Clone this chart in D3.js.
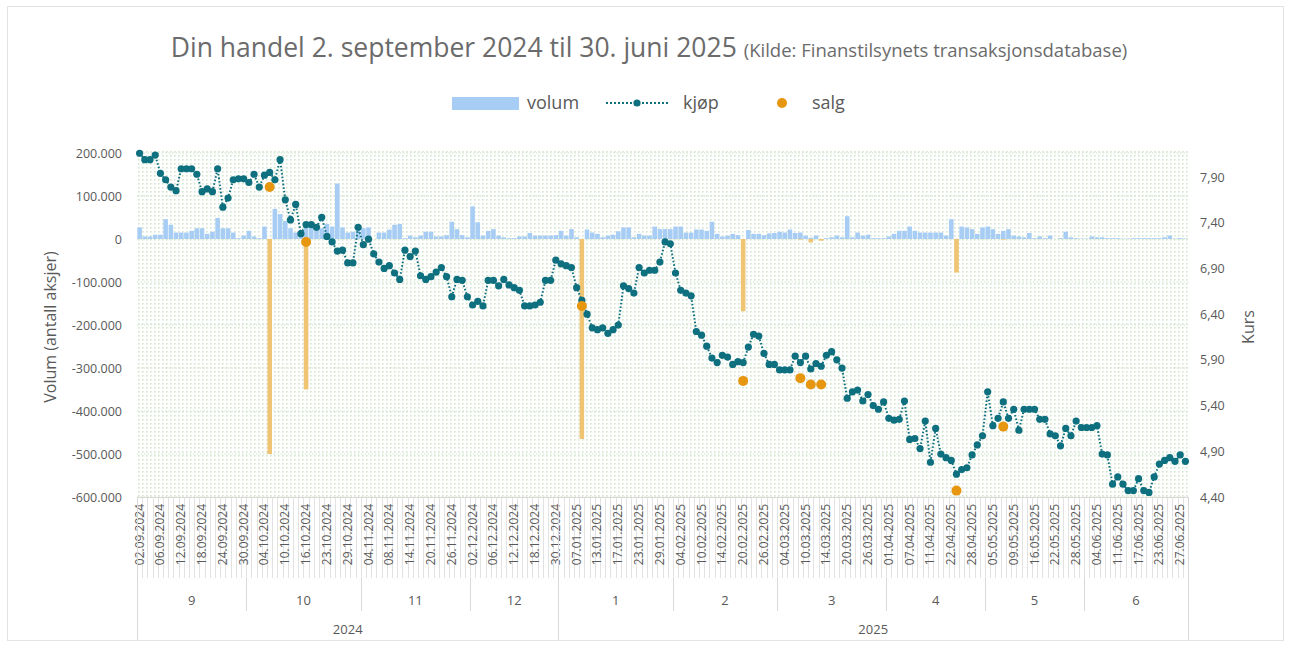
<!DOCTYPE html>
<html><head><meta charset="utf-8">
<script src="https://cdn.jsdelivr.net/npm/d3@7"></script>
<style>body{margin:0;background:#fff;} text{font-family:"Open Sans",sans-serif;fill:#595959;}</style>
</head><body><svg id="c" width="1290" height="648"></svg>
<script>
// trading days per month (categories)
const maaneder = [
 ["2024","09",[2,3,4,5,6,9,10,11,12,13,16,17,18,19,20,23,24,25,26,27,30]],
 ["2024","10",[1,2,3,4,7,8,9,10,11,14,15,16,17,18,22,23,24,25,28,29,30,31]],
 ["2024","11",[1,4,5,6,7,8,11,12,13,14,15,18,19,20,21,22,25,26,27,28,29]],
 ["2024","12",[2,3,4,5,6,9,10,11,12,13,16,17,18,19,20,23,30]],
 ["2025","01",[2,3,6,7,8,9,10,13,14,15,16,17,20,21,22,23,24,27,28,29,30,31]],
 ["2025","02",[3,4,5,6,7,10,11,12,13,14,17,18,19,20,21,24,25,26,27,28]],
 ["2025","03",[3,4,5,6,7,10,11,12,13,14,17,18,19,20,21,24,25,26,27,28,31]],
 ["2025","04",[1,2,3,4,7,8,9,10,11,14,15,16,22,23,24,25,28,29,30]],
 ["2025","05",[2,5,6,7,8,9,12,13,14,16,19,20,21,22,23,26,27,28,30]],
 ["2025","06",[2,3,4,5,6,10,11,12,13,16,17,18,19,20,23,24,25,26,27,30]]
];
// kjøp (kurs)
const kjop = [
 8.16,8.09,8.09,8.14,7.94,7.87,7.79,7.75,7.99,7.99,
 7.99,7.93,7.74,7.77,7.74,7.99,7.57,7.67,7.87,7.88,
 7.88,7.84,7.93,7.79,7.92,7.95,7.87,8.09,7.65,7.43,
 7.60,7.28,7.38,7.38,7.35,7.46,7.25,7.19,7.09,7.10,
 6.96,6.96,7.35,7.16,7.22,7.06,6.97,6.90,6.93,6.85,
 6.78,7.10,7.03,7.09,6.82,6.78,6.81,6.86,6.91,6.81,
 6.59,6.78,6.77,6.59,6.50,6.54,6.49,6.77,6.77,6.71,
 6.78,6.72,6.69,6.66,6.49,6.49,6.50,6.53,6.77,6.77,
 6.99,6.95,6.93,6.91,6.69,6.55,6.40,6.25,6.23,6.25,
 6.19,6.23,6.28,6.71,6.68,6.63,6.91,6.85,6.88,6.88,
 6.97,7.19,7.17,6.85,6.66,6.63,6.60,6.21,6.17,6.05,
 5.92,5.87,5.95,5.93,5.85,5.88,5.87,6.04,6.18,6.16,
 5.97,5.85,5.85,5.79,5.79,5.79,5.94,5.87,5.94,5.80,
 5.86,5.83,5.95,5.99,5.90,5.81,5.48,5.55,5.57,5.45,
 5.52,5.40,5.36,5.44,5.26,5.24,5.25,5.45,5.03,5.04,
 4.93,5.23,4.78,5.15,4.87,4.83,4.80,4.65,4.70,4.72,
 4.86,4.97,5.07,5.55,5.18,5.26,5.44,5.26,5.36,5.13,
 5.36,5.36,5.36,5.25,5.25,5.09,5.07,4.96,5.15,5.07,
 5.23,5.16,5.16,5.16,5.18,4.87,4.86,4.54,4.62,4.54,
 4.47,4.47,4.60,4.47,4.45,4.62,4.76,4.80,4.83,4.79,
 4.86,4.79
];
// volum kjøpt (tusen aksjer)
const volumTusen = [
 27,6,6,10,10,46,33,15,15,15,19,25,25,12,17,49,25,25,15,2,8,19,6,2,29,0,70,58,42,25,15,19,31,35,29,25,35,29,129,27,15,17,25,25,27,0,15,15,22,33,35,2,8,4,
 8,17,17,6,6,9,40,23,9,4,76,39,8,19,23,8,4,2,2,6,6,14,8,8,8,8,9,19,8,23,4,0,22,15,12,4,8,10,18,27,27,4,12,8,8,29,23,23,23,29,29,15,15,22,22,19,
 40,12,6,8,12,9,0,21,12,12,9,13,14,17,15,22,14,15,8,3,8,0,2,4,8,4,53,4,15,8,10,2,2,2,6,12,19,19,29,19,15,15,15,15,15,8,46,0,29,27,23,12,27,29,23,12,19,23,
 8,6,4,14,2,6,2,8,0,2,17,4,2,1,1,6,4,4,2,2,2,1,1,2,2,2,2,2,2,4,8,1,2,1
];
// salg
const salgDatoer = ["07.10.2024","16.10.2024","08.01.2025","20.02.2025","07.03.2025","11.03.2025","13.03.2025","23.04.2025","07.05.2025"];
const salgKurs   = [7.79,7.19,6.49,5.67,5.70,5.63,5.63,4.47,5.17];
const salgVolum  = [-500000,-350000,-465000,-168000,-1500,-8000,-4000,-78000,-1500];
const venstreTicks = [200000,100000,0,-100000,-200000,-300000,-400000,-500000,-600000];
const hoyreTicks = [7.9,7.4,6.9,6.4,5.9,5.4,4.9,4.4];

const datoer = [], mnd = [];
maaneder.forEach(([y,m,ds]) => ds.forEach(d => { datoer.push(String(d).padStart(2,"0")+"."+m+"."+y); mnd.push(y+"-"+m); }));
const N = datoer.length;

const loc = d3.formatLocale({decimal:",",thousands:".",grouping:[3],currency:["",""],minus:"-"});
const fL = loc.format(",.0f"), fR = loc.format(".2f");

const svg = d3.select("#c");
const L = 137, R = 1188, T = 153, B = 497;
const x = d3.scaleBand().domain(d3.range(N)).range([L,R]).padding(0);
const bw = x.bandwidth();
const yL = d3.scaleLinear().domain([-600000,200000]).range([B,T]);
const yR = d3.scaleLinear().domain([4.4,4.4+(B-T)/((B-177)/3.5)]).range([B,T]);
const cx = i => x(i)+bw/2;

// frame
svg.append("rect").attr("x",7.5).attr("y",6.5).attr("width",1276).attr("height",634).attr("fill","none").attr("stroke","#e3e3e3");

// background dots
const defs = svg.append("defs");
const pat = defs.append("pattern").attr("id","dots").attr("patternUnits","userSpaceOnUse").attr("width",4).attr("height",4).attr("x",L).attr("y",T-3);
pat.append("rect").attr("x",1).attr("y",1).attr("width",1.6).attr("height",1.6).attr("fill","#d3e5cd");
svg.append("rect").attr("x",L).attr("y",T-3).attr("width",R-L).attr("height",B-T+3).attr("fill","url(#dots)");

// gridlines
svg.append("g").selectAll("line").data(venstreTicks).join("line")
  .attr("x1",L).attr("x2",R).attr("y1",d=>yL(d)).attr("y2",d=>yL(d))
  .attr("stroke","#cfe2c8").attr("stroke-width",1.2).attr("stroke-dasharray","1.5,2");

// title
const tt = svg.append("text").attr("x",649).attr("y",57).attr("text-anchor","middle").style("fill","#6b6b6b");
tt.append("tspan").attr("font-size",26.5).text("Din handel 2. september 2024 til 30. juni 2025 ");
tt.append("tspan").attr("font-size",18.5).text("(Kilde: Finanstilsynets transaksjonsdatabase)");

// legend
const lg = svg.append("g").attr("font-size",18);
lg.append("rect").attr("x",452).attr("y",97).attr("width",67).attr("height",13).attr("fill","#a8cdf5");
lg.append("text").attr("x",527).attr("y",109).text("volum");
lg.append("line").attr("x1",606).attr("x2",668).attr("y1",103).attr("y2",103).attr("stroke","#0e6f7f").attr("stroke-width",2).attr("stroke-dasharray","2,2");
lg.append("circle").attr("cx",637).attr("cy",103).attr("r",3.6).attr("fill","#0e6f7f");
lg.append("text").attr("x",683).attr("y",109).text("kjøp");
lg.append("circle").attr("cx",782).attr("cy",103).attr("r",5).attr("fill","#e6960f");
lg.append("text").attr("x",812).attr("y",109).text("salg");

// volume bars
svg.append("g").selectAll("rect").data(volumTusen).join("rect")
  .attr("x",(d,i)=>x(i)+0.3).attr("width",bw-0.6)
  .attr("y",d=>yL(d*1000)).attr("height",d=>yL(0)-yL(d*1000))
  .attr("fill","#a8cdf5");
const sIdx = salgDatoer.map(d=>datoer.indexOf(d));
svg.append("g").selectAll("rect").data(salgVolum).join("rect")
  .attr("x",(d,i)=>x(sIdx[i])+0.3).attr("width",bw-0.6)
  .attr("y",yL(0)).attr("height",d=>yL(d)-yL(0))
  .attr("fill","#efc473");

// kjøp line + dots
svg.append("path").datum(kjop).attr("fill","none").attr("stroke","#0e6f7f").attr("stroke-width",2).attr("stroke-dasharray","1.6,2")
  .attr("d",d3.line().x((d,i)=>cx(i)).y(d=>yR(d)));
svg.append("g").selectAll("circle").data(kjop).join("circle")
  .attr("cx",(d,i)=>cx(i)).attr("cy",d=>yR(d)).attr("r",3.6).attr("fill","#0e6f7f");
svg.append("g").selectAll("circle").data(salgKurs).join("circle")
  .attr("cx",(d,i)=>cx(sIdx[i])).attr("cy",d=>yR(d)).attr("r",5).attr("fill","#e6960f");

// left axis
const gl = svg.append("g").attr("font-size",12.5);
gl.selectAll("text").data(venstreTicks).join("text")
  .attr("x",122).attr("y",d=>yL(d)+4.5).attr("text-anchor","end").text(d=>fL(d));
svg.append("text").attr("transform","translate(56,327) rotate(-90)").attr("text-anchor","middle").attr("font-size",16).text("Volum (antall aksjer)");
// right axis
const gr = svg.append("g").attr("font-size",12.5);
gr.selectAll("text").data(hoyreTicks).join("text")
  .attr("x",1200).attr("y",d=>yR(d)+4.5).text(d=>fR(d));
svg.append("text").attr("transform","translate(1254,327) rotate(-90)").attr("text-anchor","middle").attr("font-size",16).text("Kurs");

// x axis
const ax = svg.append("g");
ax.append("line").attr("x1",L).attr("x2",R).attr("y1",B+0.5).attr("y2",B+0.5).attr("stroke","#d9d9d9");
ax.selectAll("line.t").data(d3.range(N+1)).join("line").attr("class","t")
  .attr("x1",i=>Math.round(L+i*bw)+0.5).attr("x2",i=>Math.round(L+i*bw)+0.5).attr("y1",B).attr("y2",578)
  .attr("stroke","#dadada").attr("stroke-width",0.8);
ax.selectAll("text").data(d3.range(N).filter(i=>i%4===0)).join("text")
  .attr("transform",i=>`translate(${cx(i)+4},504) rotate(-90)`).attr("text-anchor","end").attr("font-size",12)
  .text(i=>datoer[i]);
// month groups
const grupper = [];
mnd.forEach((m,i)=>{ if(!grupper.length||grupper[grupper.length-1].m!==m) grupper.push({m,s:i,e:i}); else grupper[grupper.length-1].e=i; });
grupper.forEach(g=>{
  const x0 = x(g.s), x1 = x(g.e)+bw;
  ax.append("line").attr("x1",Math.round(x1)+0.5).attr("x2",Math.round(x1)+0.5).attr("y1",578).attr("y2",611).attr("stroke","#d9d9d9");
  ax.append("text").attr("x",(x0+x1)/2).attr("y",605).attr("text-anchor","middle").attr("font-size",13).text(String(+g.m.slice(5)));
});
// years
const aar = d3.groups(d3.range(N), i=>mnd[i].slice(0,4));
aar.forEach(([y,idx])=>{
  const x0 = x(idx[0]), x1 = x(idx[idx.length-1])+bw;
  ax.append("line").attr("x1",Math.round(x1)+0.5).attr("x2",Math.round(x1)+0.5).attr("y1",B).attr("y2",640).attr("stroke","#d9d9d9");
  ax.append("text").attr("x",(x0+x1)/2).attr("y",634).attr("text-anchor","middle").attr("font-size",13).text(y);
});
ax.append("line").attr("x1",L+0.5).attr("x2",L+0.5).attr("y1",B).attr("y2",640).attr("stroke","#d9d9d9");
</script></body></html>
